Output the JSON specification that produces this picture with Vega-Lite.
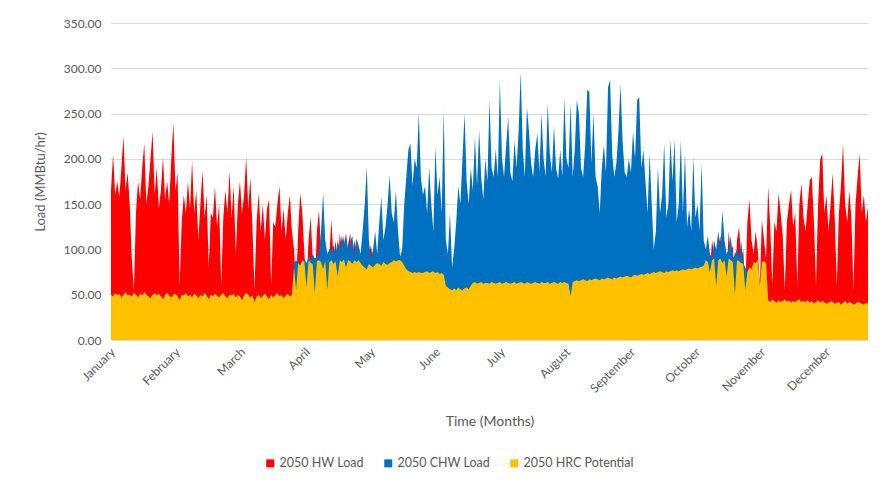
{
"$schema": "https://vega.github.io/schema/vega-lite/v6.json",
"width": 757, "height": 317,
"autosize": "none",
"padding": {"left": 111, "top": 23, "right": 18, "bottom": 145},
"background": "white",
"config": {"view": {"stroke": null}, "font": "Lato"},
"data": {"values": [
{"d":0,"hw":165,"chw":50,"hrc":50},{"d":1,"hw":205,"chw":48,"hrc":48},{"d":2,"hw":160,"chw":52,"hrc":52},{"d":3,"hw":175,"chw":49,"hrc":49},{"d":4,"hw":158,"chw":51,"hrc":51},{"d":5,"hw":190,"chw":47,"hrc":47},{"d":6,"hw":225,"chw":50,"hrc":50},{"d":7,"hw":165,"chw":53,"hrc":53},{"d":8,"hw":185,"chw":49,"hrc":49},{"d":9,"hw":150,"chw":50,"hrc":50},
{"d":10,"hw":90,"chw":48,"hrc":48},{"d":11,"hw":55,"chw":52,"hrc":52},{"d":12,"hw":140,"chw":50,"hrc":50},{"d":13,"hw":175,"chw":47,"hrc":47},{"d":14,"hw":155,"chw":51,"hrc":51},{"d":15,"hw":190,"chw":49,"hrc":49},{"d":16,"hw":217,"chw":53,"hrc":53},{"d":17,"hw":150,"chw":50,"hrc":50},{"d":18,"hw":170,"chw":48,"hrc":48},{"d":19,"hw":200,"chw":46,"hrc":46},
{"d":20,"hw":230,"chw":50,"hrc":50},{"d":21,"hw":160,"chw":52,"hrc":52},{"d":22,"hw":190,"chw":49,"hrc":49},{"d":23,"hw":145,"chw":51,"hrc":51},{"d":24,"hw":165,"chw":48,"hrc":48},{"d":25,"hw":202,"chw":45,"hrc":45},{"d":26,"hw":155,"chw":50,"hrc":50},{"d":27,"hw":175,"chw":52,"hrc":52},{"d":28,"hw":150,"chw":49,"hrc":49},{"d":29,"hw":200,"chw":47,"hrc":47},
{"d":30,"hw":240,"chw":50,"hrc":50},{"d":31,"hw":165,"chw":51,"hrc":51},{"d":32,"hw":185,"chw":48,"hrc":48},{"d":33,"hw":60,"chw":44,"hrc":44},{"d":34,"hw":130,"chw":50,"hrc":50},{"d":35,"hw":160,"chw":49,"hrc":49},{"d":36,"hw":140,"chw":52,"hrc":52},{"d":37,"hw":175,"chw":48,"hrc":48},{"d":38,"hw":145,"chw":50,"hrc":50},{"d":39,"hw":198,"chw":47,"hrc":47},
{"d":40,"hw":140,"chw":51,"hrc":51},{"d":41,"hw":165,"chw":49,"hrc":49},{"d":42,"hw":110,"chw":46,"hrc":46},{"d":43,"hw":150,"chw":50,"hrc":50},{"d":44,"hw":187,"chw":48,"hrc":48},{"d":45,"hw":135,"chw":52,"hrc":52},{"d":46,"hw":160,"chw":49,"hrc":49},{"d":47,"hw":80,"chw":45,"hrc":45},{"d":48,"hw":140,"chw":50,"hrc":50},{"d":49,"hw":135,"chw":48,"hrc":48},
{"d":50,"hw":169,"chw":51,"hrc":51},{"d":51,"hw":125,"chw":49,"hrc":49},{"d":52,"hw":150,"chw":47,"hrc":47},{"d":53,"hw":60,"chw":50,"hrc":50},{"d":54,"hw":135,"chw":52,"hrc":52},{"d":55,"hw":165,"chw":48,"hrc":48},{"d":56,"hw":140,"chw":46,"hrc":46},{"d":57,"hw":187,"chw":50,"hrc":50},{"d":58,"hw":135,"chw":49,"hrc":49},{"d":59,"hw":170,"chw":51,"hrc":51},
{"d":60,"hw":95,"chw":47,"hrc":47},{"d":61,"hw":150,"chw":50,"hrc":50},{"d":62,"hw":175,"chw":48,"hrc":48},{"d":63,"hw":140,"chw":44,"hrc":44},{"d":64,"hw":160,"chw":49,"hrc":49},{"d":65,"hw":202,"chw":52,"hrc":52},{"d":66,"hw":145,"chw":50,"hrc":50},{"d":67,"hw":180,"chw":47,"hrc":47},{"d":68,"hw":125,"chw":49,"hrc":49},{"d":69,"hw":55,"chw":42,"hrc":42},
{"d":70,"hw":130,"chw":48,"hrc":48},{"d":71,"hw":162,"chw":50,"hrc":50},{"d":72,"hw":120,"chw":46,"hrc":46},{"d":73,"hw":150,"chw":49,"hrc":49},{"d":74,"hw":110,"chw":51,"hrc":51},{"d":75,"hw":145,"chw":48,"hrc":48},{"d":76,"hw":155,"chw":45,"hrc":45},{"d":77,"hw":60,"chw":50,"hrc":50},{"d":78,"hw":130,"chw":47,"hrc":47},{"d":79,"hw":125,"chw":49,"hrc":49},
{"d":80,"hw":150,"chw":52,"hrc":52},{"d":81,"hw":170,"chw":48,"hrc":48},{"d":82,"hw":120,"chw":50,"hrc":50},{"d":83,"hw":145,"chw":46,"hrc":46},{"d":84,"hw":110,"chw":49,"hrc":49},{"d":85,"hw":140,"chw":51,"hrc":51},{"d":86,"hw":160,"chw":48,"hrc":48},{"d":87,"hw":120,"chw":50,"hrc":50},{"d":88,"hw":100,"chw":85,"hrc":80},{"d":89,"hw":55,"chw":88,"hrc":55},
{"d":90,"hw":120,"chw":85,"hrc":85},{"d":91,"hw":162,"chw":84,"hrc":82},{"d":92,"hw":140,"chw":88,"hrc":88},{"d":93,"hw":95,"chw":90,"hrc":86},{"d":94,"hw":60,"chw":85,"hrc":58},{"d":95,"hw":110,"chw":92,"hrc":88},{"d":96,"hw":136,"chw":88,"hrc":85},{"d":97,"hw":90,"chw":95,"hrc":84},{"d":98,"hw":55,"chw":90,"hrc":52},{"d":99,"hw":120,"chw":92,"hrc":87},
{"d":100,"hw":143,"chw":95,"hrc":88},{"d":101,"hw":100,"chw":120,"hrc":86},{"d":102,"hw":80,"chw":162,"hrc":78},{"d":103,"hw":110,"chw":110,"hrc":88},{"d":104,"hw":60,"chw":95,"hrc":55},{"d":105,"hw":95,"chw":100,"hrc":86},{"d":106,"hw":133,"chw":98,"hrc":88},{"d":107,"hw":90,"chw":105,"hrc":84},{"d":108,"hw":110,"chw":95,"hrc":87},{"d":109,"hw":75,"chw":110,"hrc":70},
{"d":110,"hw":118,"chw":100,"hrc":88},{"d":111,"hw":100,"chw":115,"hrc":86},{"d":112,"hw":115,"chw":105,"hrc":89},{"d":113,"hw":85,"chw":118,"hrc":80},{"d":114,"hw":105,"chw":100,"hrc":88},{"d":115,"hw":118,"chw":108,"hrc":87},{"d":116,"hw":90,"chw":115,"hrc":84},{"d":117,"hw":110,"chw":95,"hrc":88},{"d":118,"hw":95,"chw":112,"hrc":86},{"d":119,"hw":100,"chw":105,"hrc":88},
{"d":120,"hw":90,"chw":95,"hrc":85},{"d":121,"hw":100,"chw":120,"hrc":82},{"d":122,"hw":85,"chw":150,"hrc":80},{"d":123,"hw":80,"chw":191,"hrc":78},{"d":124,"hw":95,"chw":110,"hrc":84},{"d":125,"hw":105,"chw":90,"hrc":82},{"d":126,"hw":85,"chw":100,"hrc":80},{"d":127,"hw":90,"chw":120,"hrc":83},{"d":128,"hw":85,"chw":95,"hrc":85},{"d":129,"hw":95,"chw":130,"hrc":84},
{"d":130,"hw":85,"chw":158,"hrc":82},{"d":131,"hw":88,"chw":110,"hrc":86},{"d":132,"hw":84,"chw":125,"hrc":84},{"d":133,"hw":92,"chw":150,"hrc":83},{"d":134,"hw":85,"chw":182,"hrc":85},{"d":135,"hw":86,"chw":140,"hrc":86},{"d":136,"hw":88,"chw":130,"hrc":88},{"d":137,"hw":87,"chw":165,"hrc":87},{"d":138,"hw":88,"chw":120,"hrc":88},{"d":139,"hw":88,"chw":92,"hrc":88},
{"d":140,"hw":86,"chw":100,"hrc":86},{"d":141,"hw":82,"chw":150,"hrc":82},{"d":142,"hw":78,"chw":180,"hrc":78},{"d":143,"hw":76,"chw":210,"hrc":76},{"d":144,"hw":75,"chw":217,"hrc":75},{"d":145,"hw":74,"chw":170,"hrc":74},{"d":146,"hw":75,"chw":200,"hrc":75},{"d":147,"hw":74,"chw":190,"hrc":74},{"d":148,"hw":75,"chw":250,"hrc":75},{"d":149,"hw":74,"chw":180,"hrc":74},
{"d":150,"hw":74,"chw":160,"hrc":74},{"d":151,"hw":75,"chw":170,"hrc":75},{"d":152,"hw":76,"chw":140,"hrc":76},{"d":153,"hw":74,"chw":191,"hrc":74},{"d":154,"hw":75,"chw":150,"hrc":75},{"d":155,"hw":76,"chw":120,"hrc":76},{"d":156,"hw":74,"chw":213,"hrc":74},{"d":157,"hw":75,"chw":160,"hrc":75},{"d":158,"hw":73,"chw":180,"hrc":73},{"d":159,"hw":74,"chw":140,"hrc":74},
{"d":160,"hw":72,"chw":254,"hrc":72},{"d":161,"hw":60,"chw":110,"hrc":60},{"d":162,"hw":58,"chw":95,"hrc":58},{"d":163,"hw":56,"chw":140,"hrc":56},{"d":164,"hw":55,"chw":80,"hrc":55},{"d":165,"hw":57,"chw":100,"hrc":57},{"d":166,"hw":55,"chw":130,"hrc":55},{"d":167,"hw":58,"chw":170,"hrc":58},{"d":168,"hw":56,"chw":150,"hrc":56},{"d":169,"hw":55,"chw":200,"hrc":55},
{"d":170,"hw":57,"chw":250,"hrc":57},{"d":171,"hw":58,"chw":175,"hrc":58},{"d":172,"hw":56,"chw":150,"hrc":56},{"d":173,"hw":60,"chw":190,"hrc":60},{"d":174,"hw":63,"chw":165,"hrc":63},{"d":175,"hw":64,"chw":224,"hrc":64},{"d":176,"hw":62,"chw":170,"hrc":62},{"d":177,"hw":63,"chw":232,"hrc":63},{"d":178,"hw":64,"chw":180,"hrc":64},{"d":179,"hw":62,"chw":155,"hrc":62},
{"d":180,"hw":63,"chw":200,"hrc":63},{"d":181,"hw":63,"chw":175,"hrc":63},{"d":182,"hw":62,"chw":265,"hrc":62},{"d":183,"hw":64,"chw":190,"hrc":64},{"d":184,"hw":63,"chw":180,"hrc":63},{"d":185,"hw":62,"chw":210,"hrc":62},{"d":186,"hw":63,"chw":180,"hrc":63},{"d":187,"hw":64,"chw":287,"hrc":64},{"d":188,"hw":62,"chw":200,"hrc":62},{"d":189,"hw":63,"chw":180,"hrc":63},
{"d":190,"hw":64,"chw":215,"hrc":64},{"d":191,"hw":63,"chw":246,"hrc":63},{"d":192,"hw":62,"chw":185,"hrc":62},{"d":193,"hw":63,"chw":175,"hrc":63},{"d":194,"hw":64,"chw":220,"hrc":64},{"d":195,"hw":62,"chw":190,"hrc":62},{"d":196,"hw":63,"chw":230,"hrc":63},{"d":197,"hw":64,"chw":296,"hrc":64},{"d":198,"hw":63,"chw":210,"hrc":63},{"d":199,"hw":62,"chw":180,"hrc":62},
{"d":200,"hw":64,"chw":257,"hrc":64},{"d":201,"hw":63,"chw":230,"hrc":63},{"d":202,"hw":62,"chw":195,"hrc":62},{"d":203,"hw":63,"chw":180,"hrc":63},{"d":204,"hw":64,"chw":210,"hrc":64},{"d":205,"hw":63,"chw":228,"hrc":63},{"d":206,"hw":62,"chw":185,"hrc":62},{"d":207,"hw":64,"chw":250,"hrc":64},{"d":208,"hw":63,"chw":200,"hrc":63},{"d":209,"hw":63,"chw":180,"hrc":63},
{"d":210,"hw":64,"chw":261,"hrc":64},{"d":211,"hw":62,"chw":205,"hrc":62},{"d":212,"hw":63,"chw":185,"hrc":63},{"d":213,"hw":64,"chw":236,"hrc":64},{"d":214,"hw":63,"chw":190,"hrc":63},{"d":215,"hw":62,"chw":178,"hrc":62},{"d":216,"hw":64,"chw":210,"hrc":64},{"d":217,"hw":63,"chw":180,"hrc":63},{"d":218,"hw":64,"chw":268,"hrc":64},{"d":219,"hw":63,"chw":200,"hrc":63},
{"d":220,"hw":62,"chw":190,"hrc":62},{"d":221,"hw":48,"chw":261,"hrc":48},{"d":222,"hw":64,"chw":180,"hrc":64},{"d":223,"hw":65,"chw":210,"hrc":65},{"d":224,"hw":66,"chw":265,"hrc":66},{"d":225,"hw":65,"chw":250,"hrc":65},{"d":226,"hw":66,"chw":190,"hrc":66},{"d":227,"hw":67,"chw":180,"hrc":67},{"d":228,"hw":66,"chw":215,"hrc":66},{"d":229,"hw":65,"chw":276,"hrc":65},
{"d":230,"hw":67,"chw":274,"hrc":67},{"d":231,"hw":66,"chw":195,"hrc":66},{"d":232,"hw":67,"chw":250,"hrc":67},{"d":233,"hw":68,"chw":180,"hrc":68},{"d":234,"hw":67,"chw":170,"hrc":67},{"d":235,"hw":66,"chw":140,"hrc":66},{"d":236,"hw":68,"chw":190,"hrc":68},{"d":237,"hw":67,"chw":215,"hrc":67},{"d":238,"hw":68,"chw":185,"hrc":68},{"d":239,"hw":69,"chw":279,"hrc":69},
{"d":240,"hw":68,"chw":287,"hrc":68},{"d":241,"hw":67,"chw":205,"hrc":67},{"d":242,"hw":69,"chw":180,"hrc":69},{"d":243,"hw":68,"chw":195,"hrc":68},{"d":244,"hw":69,"chw":230,"hrc":69},{"d":245,"hw":70,"chw":283,"hrc":70},{"d":246,"hw":69,"chw":220,"hrc":69},{"d":247,"hw":70,"chw":185,"hrc":70},{"d":248,"hw":71,"chw":180,"hrc":71},{"d":249,"hw":70,"chw":200,"hrc":70},
{"d":250,"hw":69,"chw":185,"hrc":69},{"d":251,"hw":71,"chw":230,"hrc":71},{"d":252,"hw":72,"chw":200,"hrc":72},{"d":253,"hw":71,"chw":265,"hrc":71},{"d":254,"hw":72,"chw":268,"hrc":72},{"d":255,"hw":73,"chw":190,"hrc":73},{"d":256,"hw":72,"chw":210,"hrc":72},{"d":257,"hw":73,"chw":175,"hrc":73},{"d":258,"hw":74,"chw":140,"hrc":74},{"d":259,"hw":73,"chw":206,"hrc":73},
{"d":260,"hw":74,"chw":150,"hrc":74},{"d":261,"hw":75,"chw":100,"hrc":75},{"d":262,"hw":74,"chw":120,"hrc":74},{"d":263,"hw":75,"chw":191,"hrc":75},{"d":264,"hw":76,"chw":140,"hrc":76},{"d":265,"hw":75,"chw":160,"hrc":75},{"d":266,"hw":74,"chw":217,"hrc":74},{"d":267,"hw":76,"chw":135,"hrc":76},{"d":268,"hw":75,"chw":150,"hrc":75},{"d":269,"hw":76,"chw":221,"hrc":76},
{"d":270,"hw":77,"chw":175,"hrc":77},{"d":271,"hw":76,"chw":221,"hrc":76},{"d":272,"hw":77,"chw":130,"hrc":77},{"d":273,"hw":76,"chw":150,"hrc":76},{"d":274,"hw":77,"chw":221,"hrc":77},{"d":275,"hw":78,"chw":140,"hrc":78},{"d":276,"hw":77,"chw":206,"hrc":77},{"d":277,"hw":78,"chw":125,"hrc":78},{"d":278,"hw":79,"chw":145,"hrc":79},{"d":279,"hw":78,"chw":120,"hrc":78},
{"d":280,"hw":79,"chw":202,"hrc":79},{"d":281,"hw":80,"chw":135,"hrc":80},{"d":282,"hw":79,"chw":150,"hrc":79},{"d":283,"hw":80,"chw":120,"hrc":80},{"d":284,"hw":81,"chw":195,"hrc":81},{"d":285,"hw":82,"chw":110,"hrc":82},{"d":286,"hw":90,"chw":100,"hrc":88},{"d":287,"hw":100,"chw":115,"hrc":86},{"d":288,"hw":75,"chw":95,"hrc":75},{"d":289,"hw":110,"chw":90,"hrc":88},
{"d":290,"hw":95,"chw":110,"hrc":90},{"d":291,"hw":60,"chw":100,"hrc":60},{"d":292,"hw":105,"chw":120,"hrc":88},{"d":293,"hw":115,"chw":100,"hrc":90},{"d":294,"hw":90,"chw":143,"hrc":85},{"d":295,"hw":100,"chw":110,"hrc":88},{"d":296,"hw":70,"chw":95,"hrc":70},{"d":297,"hw":120,"chw":100,"hrc":90},{"d":298,"hw":95,"chw":115,"hrc":88},{"d":299,"hw":105,"chw":90,"hrc":86},
{"d":300,"hw":50,"chw":95,"hrc":50},{"d":301,"hw":110,"chw":100,"hrc":88},{"d":302,"hw":125,"chw":90,"hrc":87},{"d":303,"hw":90,"chw":110,"hrc":85},{"d":304,"hw":100,"chw":85,"hrc":84},{"d":305,"hw":55,"chw":80,"hrc":55},{"d":306,"hw":130,"chw":75,"hrc":75},{"d":307,"hw":155,"chw":80,"hrc":80},{"d":308,"hw":110,"chw":78,"hrc":78},{"d":309,"hw":95,"chw":86,"hrc":86},
{"d":310,"hw":120,"chw":85,"hrc":85},{"d":311,"hw":100,"chw":88,"hrc":88},{"d":312,"hw":60,"chw":60,"hrc":60},{"d":313,"hw":133,"chw":86,"hrc":86},{"d":314,"hw":110,"chw":87,"hrc":87},{"d":315,"hw":90,"chw":85,"hrc":85},{"d":316,"hw":169,"chw":44,"hrc":44},{"d":317,"hw":125,"chw":42,"hrc":42},{"d":318,"hw":60,"chw":45,"hrc":45},{"d":319,"hw":130,"chw":43,"hrc":43},
{"d":320,"hw":120,"chw":41,"hrc":41},{"d":321,"hw":162,"chw":44,"hrc":44},{"d":322,"hw":140,"chw":42,"hrc":42},{"d":323,"hw":115,"chw":43,"hrc":43},{"d":324,"hw":55,"chw":45,"hrc":45},{"d":325,"hw":130,"chw":42,"hrc":42},{"d":326,"hw":150,"chw":44,"hrc":44},{"d":327,"hw":166,"chw":41,"hrc":41},{"d":328,"hw":125,"chw":43,"hrc":43},{"d":329,"hw":140,"chw":42,"hrc":42},
{"d":330,"hw":60,"chw":44,"hrc":44},{"d":331,"hw":150,"chw":45,"hrc":45},{"d":332,"hw":173,"chw":42,"hrc":42},{"d":333,"hw":135,"chw":43,"hrc":43},{"d":334,"hw":120,"chw":42,"hrc":42},{"d":335,"hw":150,"chw":44,"hrc":44},{"d":336,"hw":176,"chw":41,"hrc":41},{"d":337,"hw":180,"chw":43,"hrc":43},{"d":338,"hw":130,"chw":40,"hrc":40},{"d":339,"hw":60,"chw":42,"hrc":42},
{"d":340,"hw":150,"chw":44,"hrc":44},{"d":341,"hw":199,"chw":41,"hrc":41},{"d":342,"hw":206,"chw":43,"hrc":43},{"d":343,"hw":140,"chw":42,"hrc":42},{"d":344,"hw":160,"chw":40,"hrc":40},{"d":345,"hw":120,"chw":41,"hrc":41},{"d":346,"hw":150,"chw":43,"hrc":43},{"d":347,"hw":184,"chw":42,"hrc":42},{"d":348,"hw":135,"chw":40,"hrc":40},{"d":349,"hw":60,"chw":41,"hrc":41},
{"d":350,"hw":140,"chw":42,"hrc":42},{"d":351,"hw":170,"chw":39,"hrc":39},{"d":352,"hw":217,"chw":41,"hrc":41},{"d":353,"hw":150,"chw":43,"hrc":43},{"d":354,"hw":130,"chw":40,"hrc":40},{"d":355,"hw":165,"chw":42,"hrc":42},{"d":356,"hw":135,"chw":41,"hrc":41},{"d":357,"hw":55,"chw":39,"hrc":39},{"d":358,"hw":150,"chw":40,"hrc":40},{"d":359,"hw":180,"chw":42,"hrc":42},
{"d":360,"hw":206,"chw":41,"hrc":41},{"d":361,"hw":140,"chw":40,"hrc":40},{"d":362,"hw":160,"chw":39,"hrc":39},{"d":363,"hw":130,"chw":41,"hrc":41},{"d":364,"hw":147,"chw":40,"hrc":40}
]},
"encoding": {
  "x": {"field": "d", "type": "quantitative", "scale": {"domain": [0, 364], "nice": false, "zero": false},
    "axis": {"values": [1, 32.2, 63.5, 94.7, 126, 157.3, 188.5, 219.8, 251, 282.3, 313.6, 344.8],
      "labelExpr": "['January','February','March','April','May','June','July','August','September','October','November','December'][round((datum.value-1)/31.26)]",
      "labelAngle": -45, "labelAlign": "right", "labelBaseline": "top", "labelPadding": 6, "labelOffset": -4,
      "labelOverlap": false, "labelFlush": false, "labelBound": false,
      "labelFont": "Lato", "labelFontSize": 12, "labelColor": "#595959",
      "ticks": false, "domain": false, "grid": false,
      "title": "Time (Months)", "titleFont": "Lato", "titleFontSize": 14, "titleFontWeight": "normal", "titleColor": "#595959",
      "titleX": 378.5, "titleY": 81, "titleBaseline": "middle", "titleAlign": "center"}},
  "y": {"type": "quantitative", "stack": null, "scale": {"domain": [0, 350], "nice": false},
    "title": "Load (MMBtu/hr)",
    "axis": {"values": [0, 50, 100, 150, 200, 250, 300, 350], "format": ".2f",
      "grid": true, "gridColor": "#D9D9D9", "gridWidth": 1, "domain": false, "ticks": false,
      "labelFont": "Lato", "labelFontSize": 12, "labelColor": "#595959", "labelPadding": 10,
      "titleFont": "Lato", "titleFontSize": 13, "titleFontWeight": "normal", "titleColor": "#595959",
      "titleX": -71, "titleY": 158.5, "titleAngle": -90, "titleAlign": "center", "titleBaseline": "middle"}},
  "color": {"type": "nominal",
    "scale": {"domain": ["2050 HW Load", "2050 CHW Load", "2050 HRC Potential"], "range": ["#FF0000", "#0070C0", "#FFC000"]},
    "legend": {"orient": "none", "legendX": 153, "legendY": 434, "direction": "horizontal", "title": null,
      "symbolType": "square", "symbolSize": 64, "symbolStrokeWidth": 0, "symbolOpacity": 1,
      "labelFont": "Lato", "labelFontSize": 12.5, "labelColor": "#595959", "labelOffset": 3, "columnPadding": 18}}
},
"layer": [
  {"mark": {"type": "area", "opacity": 1, "interpolate": "linear"},
   "encoding": {"y": {"field": "hw"}, "color": {"datum": "2050 HW Load"}}},
  {"mark": {"type": "area", "opacity": 1, "interpolate": "linear"},
   "encoding": {"y": {"field": "chw"}, "color": {"datum": "2050 CHW Load"}}},
  {"mark": {"type": "area", "opacity": 1, "interpolate": "linear"},
   "encoding": {"y": {"field": "hrc"}, "color": {"datum": "2050 HRC Potential"}}}
]
}
